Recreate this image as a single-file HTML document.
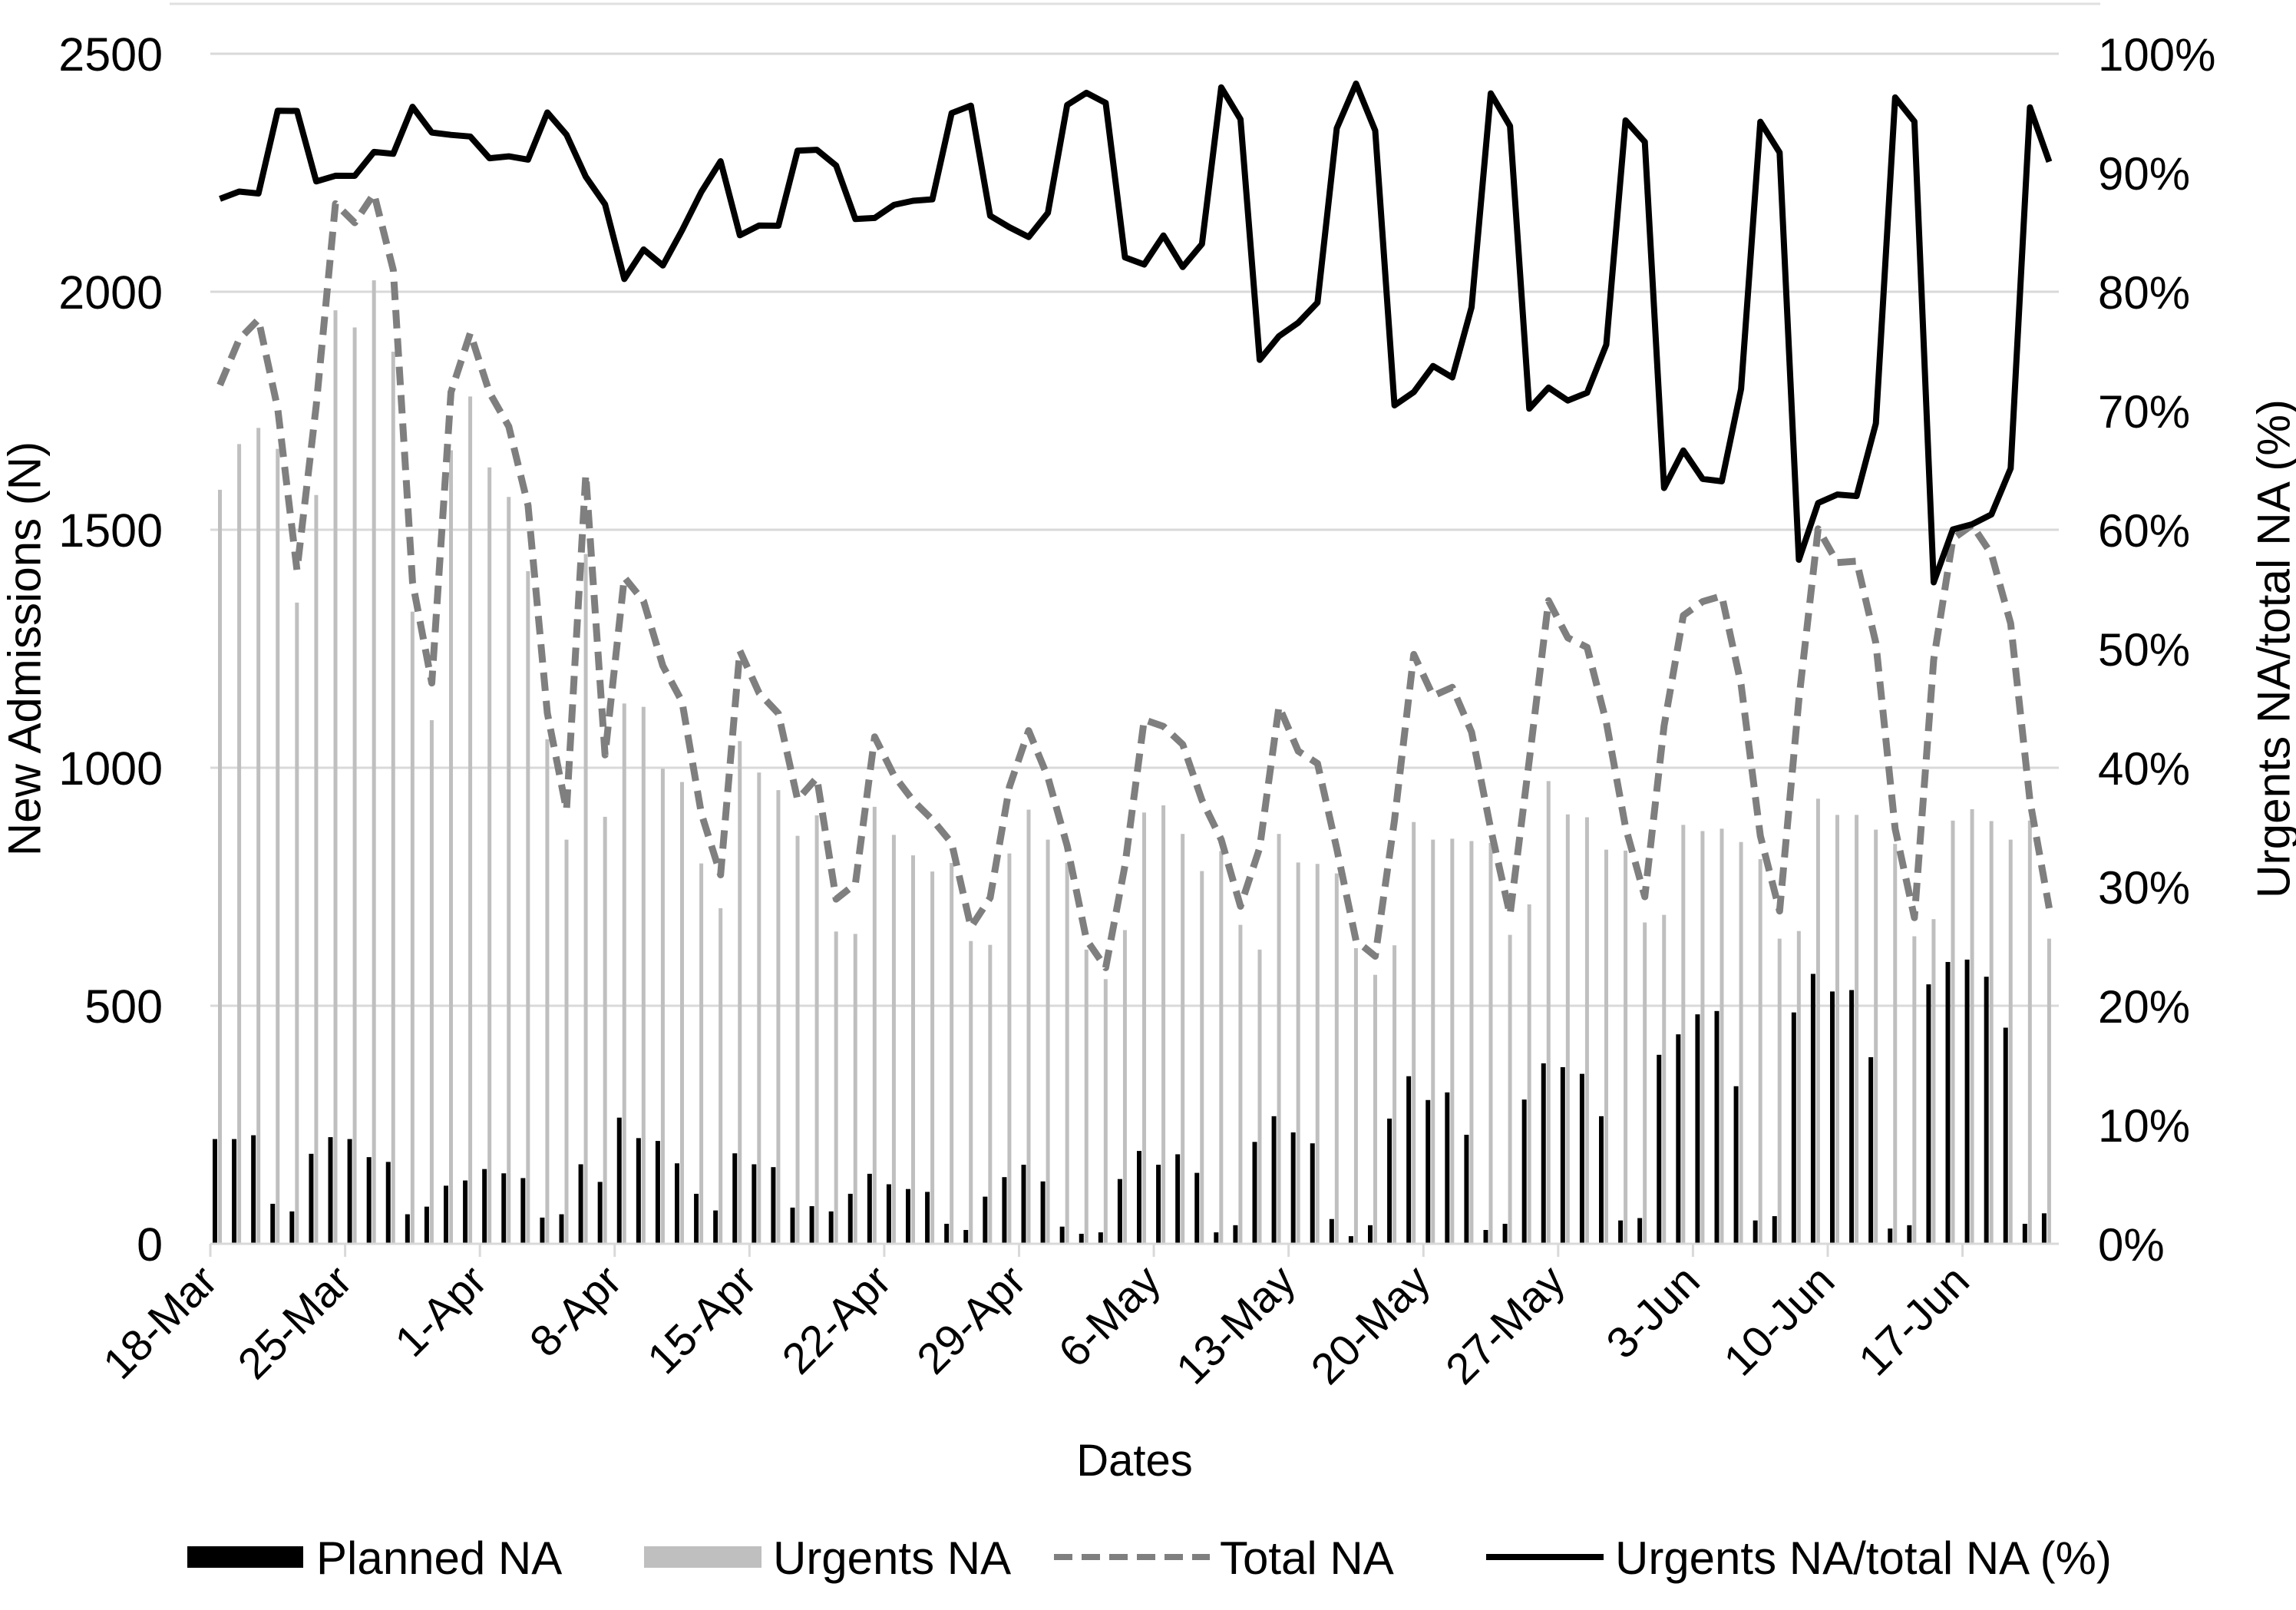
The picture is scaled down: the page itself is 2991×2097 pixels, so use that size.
<!DOCTYPE html>
<html>
<head>
<meta charset="utf-8">
<style>
html,body{margin:0;padding:0;background:#fff;}
svg{display:block;font-family:"Liberation Sans",Arial,sans-serif;}
</style>
</head>
<body>
<svg id="chart" width="2991" height="2097" viewBox="0 0 2991 2097" xmlns="http://www.w3.org/2000/svg">
  <rect x="0" y="0" width="2991" height="2097" fill="#fff"/>
  <line x1="221" y1="5" x2="2736" y2="5" stroke="#e0e0e0" stroke-width="3"/>
  <g id="grid"></g>
  <g id="bars"></g>
  <g id="lines"></g>
  <g id="axes"></g>
  <text x="32" y="845" font-size="60" text-anchor="middle" dominant-baseline="central" transform="rotate(-90 32 845)">New Admissions (N)</text>
  <text x="2962" y="845" font-size="60" text-anchor="middle" dominant-baseline="central" textLength="650" lengthAdjust="spacingAndGlyphs" transform="rotate(-90 2962 845)">Urgents NA/total NA (%)</text>
  <text x="1478" y="1922" font-size="58" text-anchor="middle">Dates</text>
  <g>
    <g>
      <rect x="244" y="2014" width="151" height="28" fill="#000"/>
      <text x="412" y="2050" font-size="60">Planned NA</text>
    </g>
    <g>
      <rect x="839" y="2014" width="153" height="28" fill="#bfbfbf"/>
      <text x="1007" y="2050" font-size="60">Urgents NA</text>
    </g>
    <g>
      <line x1="1373" y1="2028" x2="1576" y2="2028" stroke="#7f7f7f" stroke-width="8" stroke-dasharray="24,12"/>
      <text x="1589" y="2050" font-size="60">Total NA</text>
    </g>
    <g>
      <line x1="1936" y1="2028" x2="2089" y2="2028" stroke="#000" stroke-width="8"/>
      <text x="2104" y="2050" font-size="60">Urgents NA/total NA (%)</text>
    </g>
  </g>
</svg>
<script>
const planned = [220,220,228,84,68,189,224,220,182,172,62,78,122,133,157,148,138,55,62,167,130,265,222,216,169,
105,70,190,167,161,76,79,68,105,147,125,115,109,42,29,99,140,166,131,36,21,24,136,195,
166,188,149,24,39,214,268,234,211,52,16,39,263,352,302,318,229,29,42,303,379,371,357,268,
49,54,397,440,482,489,331,49,58,486,567,530,533,392,32,39,545,592,597,561,454,42,64];
const urgents = [1584,1680,1714,1670,1347,1573,1961,1925,2024,1874,1328,1100,1667,1780,1631,1569,1413,1060,849,1449,897,1135,1128,998,970,
799,705,1056,990,953,857,900,656,651,918,859,816,782,800,636,628,820,912,849,800,618,556,659,906,
921,861,783,825,670,618,861,801,798,778,621,565,627,886,849,851,846,842,649,713,972,902,896,828,
826,675,691,880,867,872,844,808,641,657,935,901,901,870,840,646,682,889,913,888,849,889,641];
const tickLabels = ["18-Mar","25-Mar","1-Apr","8-Apr","15-Apr","22-Apr","29-Apr","6-May","13-May","20-May","27-May","3-Jun","10-Jun","17-Jun"];
const leftTicks = [0,500,1000,1500,2000,2500];
const rightTicks = [0,10,20,30,40,50,60,70,80,90,100];

const NS = "http://www.w3.org/2000/svg";
const X0 = 274, X1 = 2682, Y0 = 1620, YT = 70;
const n = planned.length;
const bw = (X1 - X0) / 96;
const xCat = i => X0 + i * bw;
const yL = v => Y0 - (v / 2500) * (Y0 - YT);
const yR = p => Y0 - (p / 100) * (Y0 - YT);
function mk(tag, attrs, parent){const e=document.createElementNS(NS,tag);for(const k in attrs)e.setAttribute(k,attrs[k]);parent.appendChild(e);return e;}

const grid = document.getElementById('grid');
const axes = document.getElementById('axes');
leftTicks.forEach(v=>{
  if(v>0){
    const g = mk('line',{x1:X0,x2:X1,y1:yL(v),y2:yL(v),stroke:'#d9d9d9','stroke-width':3},grid);
    
    
  }
  const t = mk('text',{x:212,y:yL(v)+22,'font-size':61,'text-anchor':'end'},axes);
  t.textContent = v;
  
  
});
rightTicks.forEach(p=>{
  const t = mk('text',{x:2733,y:yR(p)+22,'font-size':60},axes);
  t.textContent = p + '%';
  
  
});
const ax = mk('line',{x1:X0,x2:X1,y1:Y0,y2:Y0,stroke:'#d9d9d9','stroke-width':3},axes);


tickLabels.forEach((lab,k)=>{
  const x = xCat(k*7);
  const tk = mk('line',{x1:x,x2:x,y1:Y0,y2:Y0+17,stroke:'#d9d9d9','stroke-width':3},axes);
  
  
  const t = mk('text',{x:x+12,y:Y0+52,'font-size':57,'text-anchor':'end',transform:`rotate(-45 ${x+12} ${Y0+52})`},axes);
  t.textContent = lab;
  
  
});

const bars = document.getElementById('bars');
for(let i=0;i<n;i++){
  const x = xCat(i);
  const b = mk('rect',{x:x+3,y:yL(planned[i]),width:6,height:Y0-yL(planned[i]),fill:'#000'},bars);
  
  
  const u = mk('rect',{x:x+10,y:yL(urgents[i]),width:5,height:Y0-yL(urgents[i]),fill:'#bfbfbf'},bars);
  
  
}

const lines = document.getElementById('lines');
const cx = i => xCat(i) + bw/2;
let dT = '', dR = '';
for(let i=0;i<n;i++){
  const tot = planned[i] + urgents[i];
  const r = urgents[i] / tot * 100;
  dT += (i?'L':'M') + cx(i).toFixed(1) + ' ' + yL(tot).toFixed(1) + ' ';
  dR += (i?'L':'M') + cx(i).toFixed(1) + ' ' + yR(r).toFixed(1) + ' ';
}
const lt = mk('path',{d:dT,fill:'none',stroke:'#7f7f7f','stroke-width':9,'stroke-dasharray':'24,13','stroke-linejoin':'round'},lines);


const lr = mk('path',{d:dR,fill:'none',stroke:'#000','stroke-width':8,'stroke-linejoin':'round'},lines);


</script>
</body>
</html>
